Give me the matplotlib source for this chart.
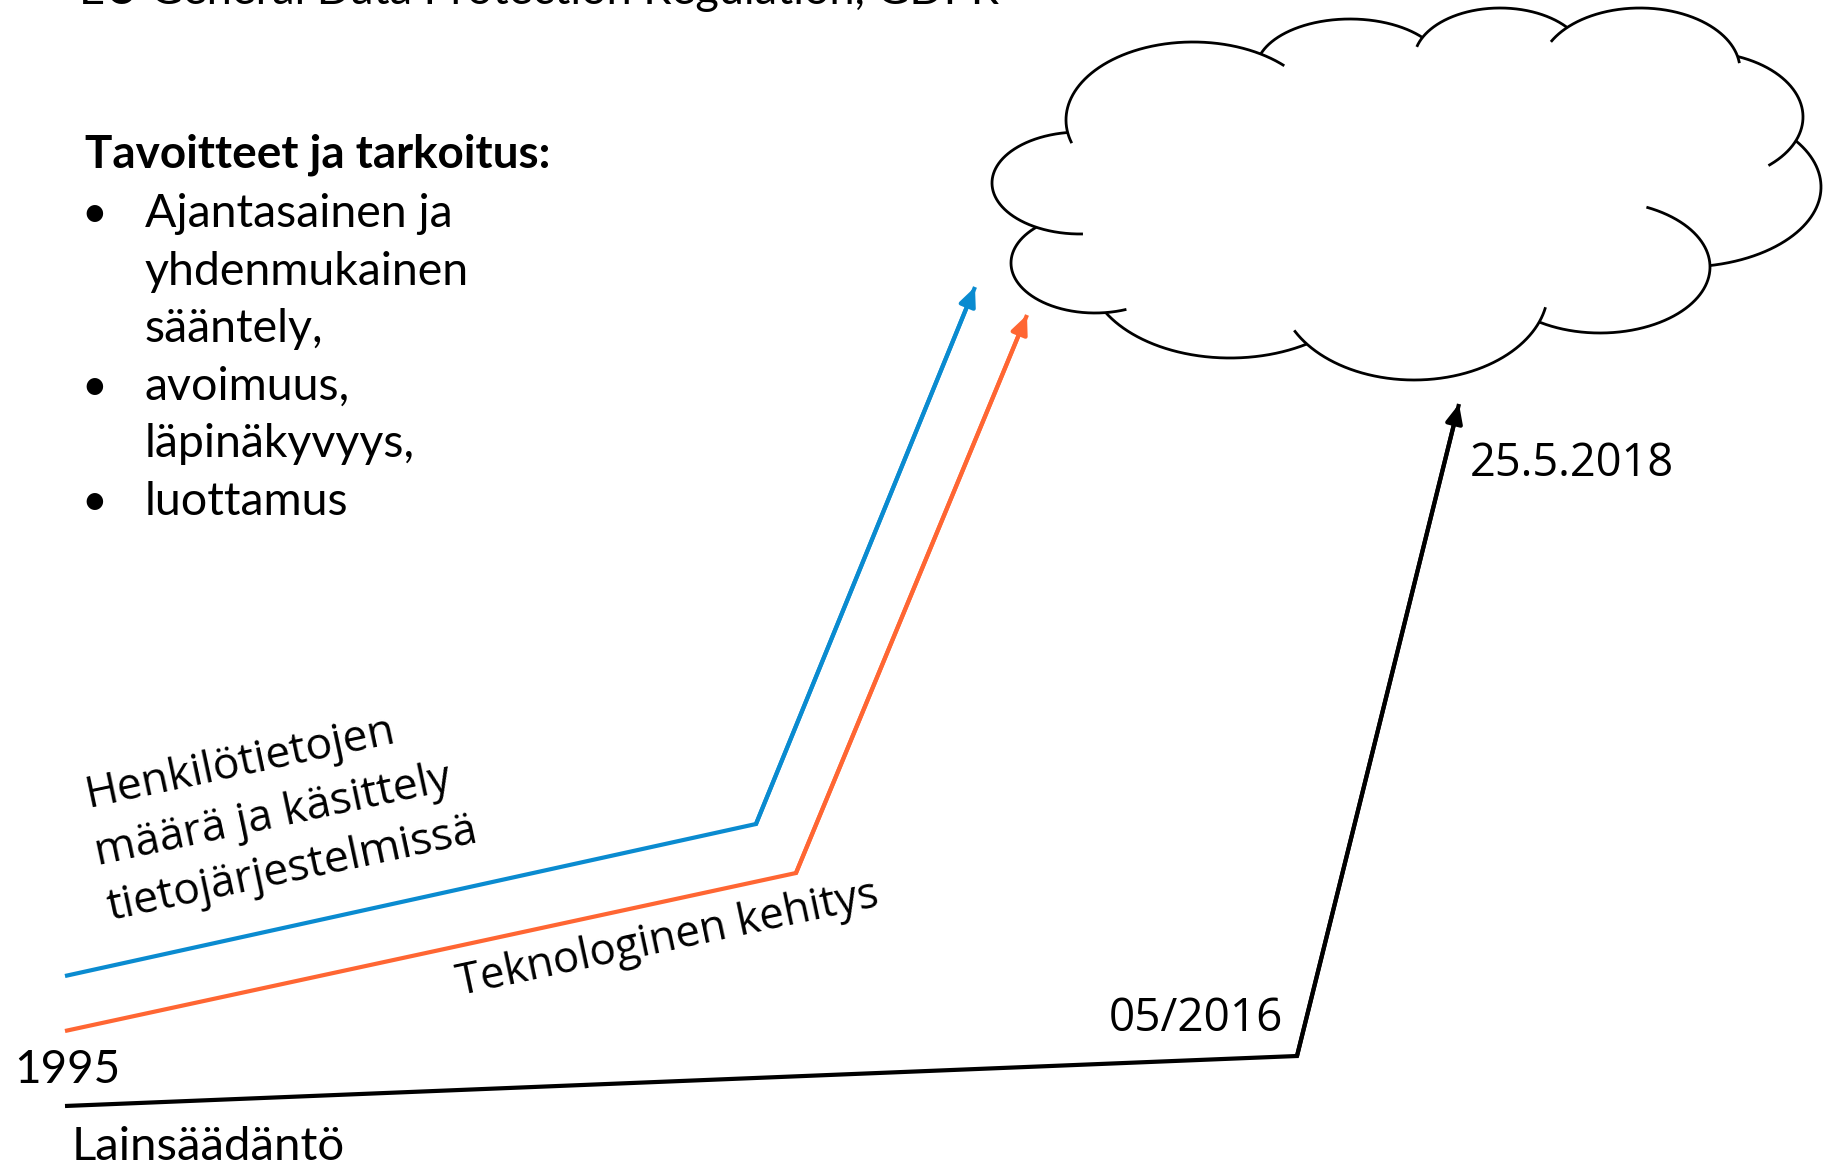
import numpy as np
import matplotlib
matplotlib.use("Agg")
import matplotlib.pyplot as plt

# ---------------- data ----------------
# polylines (slide pixel coordinates, y downwards)
blue_x = [65, 756, 975]
blue_y = [976, 824, 287]
orange_x = [65, 796, 1027]
orange_y = [1031, 873, 315]
black_x = [65, 1297, 1459]
black_y = [1106, 1056, 404]

title_text = "EU General Data Protection Regulation, GDPR"
heading_text = "Tavoitteet ja tarkoitus:"
bullet_lines = ["Ajantasainen ja", "yhdenmukainen", "sääntely,", "avoimuus,",
                "läpinäkyvyys,", "luottamus"]
bullet_marks = [True, False, False, True, False, True]
blue_label_lines = ["Henkilötietojen", "määrä ja käsittely", "tietojärjestelmissä"]
orange_label = "Teknologinen kehitys"
black_label = "Lainsäädäntö"
start_label = "1995"
mid_label = "05/2016"
end_label = "25.5.2018"

# cloud lobes (ellipses)
lobe_cx = [1193, 1350, 1500, 1640, 1700, 1684, 1600, 1414, 1230, 1095, 1080]
lobe_cy = [120, 70, 60, 70, 117, 187, 267, 290, 270, 263, 183]
lobe_rx = [127, 94, 86, 100, 103, 137, 110, 134, 142, 84, 88]
lobe_ry = [78, 51, 52, 62, 65, 80, 66, 90, 88, 50, 51]
lobe_hooks = {0: [(1072, 143), (1286, 63)], 2: [(1417, 47)],
              3: [(1551, 42), (1729, 65)], 4: [(1767, 163)], 6: [(1647, 205)],
              7: [(1545, 307), (1296, 329)], 9: [(1126, 308)], 10: [(1083, 233)]}
filler = (1400, 180, 300, 130)

# ---------------- styles ----------------
BLUE = "#0a8bd0"
ORANGE = "#ff6633"
LEFT_FONT = ["Lato", "DejaVu Sans"]
LABEL_FONT = ["Open Sans", "DejaVu Sans"]

W, H = 1829, 1165
fig = plt.figure(figsize=(W / 100, H / 100), dpi=100)
ax = fig.add_axes([0, 0, 1, 1])
ax.set_xlim(0, W)
ax.set_ylim(H, 0)
ax.axis("off")


def arrow_line(xs, ys, color, lw):
    ax.plot(xs, ys, color=color, lw=lw, solid_joinstyle="miter",
            solid_capstyle="butt")
    ax.annotate("", xy=(xs[-1], ys[-1]), xytext=(xs[-2], ys[-2]),
                arrowprops=dict(arrowstyle="-|>,head_length=0.4,head_width=0.18",
                                color=color, lw=lw, mutation_scale=28,
                                shrinkA=0, shrinkB=0))


arrow_line(blue_x, blue_y, BLUE, 3.0)
arrow_line(orange_x, orange_y, ORANGE, 3.0)
arrow_line(black_x, black_y, "black", 3.0)

# ---------------- cloud ----------------
N = 3000
t = np.linspace(0, 2 * np.pi, N, endpoint=False)
ells = list(zip(lobe_cx, lobe_cy, lobe_rx, lobe_ry))
for i, (cx, cy, rx, ry) in enumerate(ells):
    px = cx + rx * np.cos(t)
    py = cy + ry * np.sin(t)
    outside = np.ones(N, bool)
    for j, (cx2, cy2, rx2, ry2) in enumerate(ells + [filler]):
        if j == i:
            continue
        outside &= ((px - cx2) / rx2) ** 2 + ((py - cy2) / ry2) ** 2 > 1.0
    # longest circular run
    if outside.all():
        s, e = 0, N - 1
    else:
        off = int(np.argmin(outside))
        m = np.roll(outside, -off)
        best = (0, -1)
        k = 0
        while k < N:
            if m[k]:
                k0 = k
                while k < N and m[k]:
                    k += 1
                if k - k0 > best[1] - best[0] + 1:
                    best = (k0, k - 1)
            else:
                k += 1
        s, e = (best[0] + off) % N, (best[1] + off) % N
    for hx, hy in lobe_hooks.get(i, []):
        kk = int(np.argmin((px - hx) ** 2 + (py - hy) ** 2))
        back = (s - kk) % N
        fwd = (kk - e) % N
        if back < fwd:
            s = kk
        else:
            e = kk
    idx = (s + np.arange(((e - s) % N) + 1)) % N
    ax.plot(px[idx], py[idx], color="black", lw=2.0, solid_capstyle="butt")

# ---------------- texts ----------------
ax.text(79, 4, title_text, fontsize=32.5, family=LEFT_FONT, ha="left",
        va="baseline", color="black")
ax.text(85, 168, heading_text, fontsize=33, family=LEFT_FONT,
        fontweight="bold", ha="left", va="baseline")
y0, dy = 227, 57.6
for n, (line, mark) in enumerate(zip(bullet_lines, bullet_marks)):
    yy = y0 + n * dy
    if mark:
        ax.text(81, yy, "•", fontsize=32, family=LEFT_FONT, ha="left",
                va="baseline")
    ax.text(145, yy, line, fontsize=33.5, family=LEFT_FONT, ha="left",
            va="baseline")

label_pos = [(88, 807), (98, 865), (110, 920)]
for line, (lx, ly) in zip(blue_label_lines, label_pos):
    ax.text(lx, ly, line, fontsize=32, family=LABEL_FONT, rotation=12,
            rotation_mode="anchor", ha="left", va="baseline")
ax.text(460, 995, orange_label, fontsize=31.5, family=LABEL_FONT, rotation=12,
        rotation_mode="anchor", ha="left", va="baseline")

ax.text(14, 1083, start_label, fontsize=33, family=LEFT_FONT, ha="left",
        va="baseline")
ax.text(72, 1160, black_label, fontsize=34, family=LEFT_FONT, ha="left",
        va="baseline")
ax.text(1109, 1031, mid_label, fontsize=33, family=LABEL_FONT, ha="left",
        va="baseline")
ax.text(1470, 476, end_label, fontsize=32.5, family=LABEL_FONT, ha="left",
        va="baseline")

fig.savefig("out.png", dpi=100, facecolor="white")
